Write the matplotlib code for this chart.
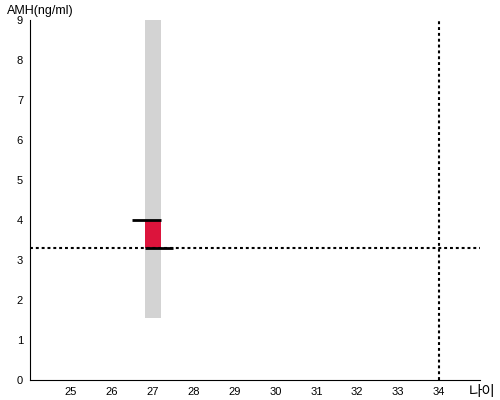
import matplotlib
matplotlib.use("Agg")
import matplotlib.pyplot as plt

plt.rcParams['font.family'] = ['Liberation Sans', 'Noto Sans CJK KR', 'DejaVu Sans']

# data
age = 27
range_low = 1.55
range_high = 9.0
value_low = 3.3
value_high = 4.0
ref_age = 34
ref_amh = 3.3
xticks = [25, 26, 27, 28, 29, 30, 31, 32, 33, 34]
yticks = [0, 1, 2, 3, 4, 5, 6, 7, 8, 9]

fig = plt.figure(figsize=(5, 4), dpi=100)
ax = fig.add_axes([0.06, 0.05, 0.90, 0.90])

ax.bar([age], [range_high - range_low], bottom=[range_low], width=0.4, color='#d3d3d3', zorder=1)
ax.bar([age], [value_high - value_low], bottom=[value_low], width=0.4, color='#dc143c', zorder=2)
ax.hlines([value_high], age - 0.5, age + 0.2, color='black', lw=2, zorder=3)
ax.hlines([value_low], age - 0.2, age + 0.5, color='black', lw=2, zorder=3)
ax.axhline(ref_amh, color='black', ls=(0, (1.4, 1.4)), lw=1.5, zorder=2)
ax.axvline(ref_age, color='black', ls=(0, (1.4, 1.4)), lw=1.5, zorder=2)

ax.set_xlim(24, 35)
ax.set_ylim(0, 9)
ax.set_xticks(xticks)
ax.set_yticks(yticks)
ax.tick_params(length=0, labelsize=8, pad=5)
for s in ['top', 'right']:
    ax.spines[s].set_visible(False)

fig.text(0.014, 0.972, 'AMH(ng/ml)', fontsize=9, ha='left', va='center')
fig.text(0.99, 0.02, '나이', fontsize=10.5, ha='right', va='center',
         family=['Noto Sans CJK KR', 'DejaVu Sans'])

fig.savefig('out.png', dpi=100)
